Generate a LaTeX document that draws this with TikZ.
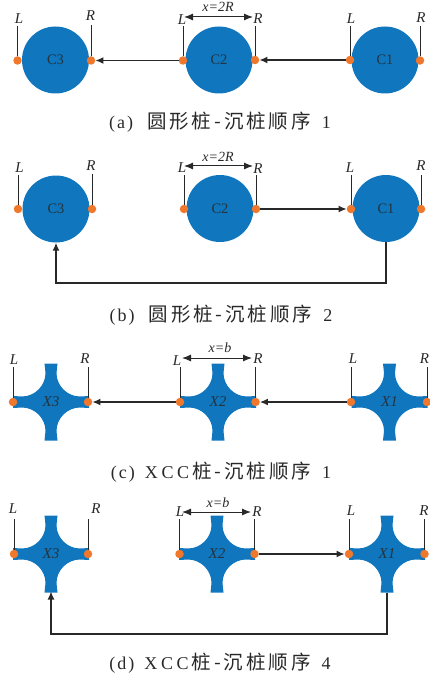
\documentclass[tikz,border=0pt]{standalone}
\usepackage{fontspec}
\setmainfont{Liberation Serif}
\newfontfamily\cjk[LetterSpace=15]{Noto Sans CJK SC}
\newfontfamily\capl[LetterSpace=20]{Liberation Serif}
\usetikzlibrary{arrows.meta}
\definecolor{pile}{RGB}{16,118,190}
\definecolor{pin}{RGB}{240,120,45}
\definecolor{ink}{RGB}{40,40,40}
\tikzset{x=1pt,y=-1pt,
 pinpt/.style={circle,fill=pin,inner sep=0pt,minimum size=8.5pt},
 pilec/.style={circle,fill=pile,inner sep=0pt,minimum size=67pt},
 pilelab/.style={font=\fontsize{14.5}{14}\selectfont,text=ink!85!pile,inner sep=0pt},
 xlab/.style={font=\itshape\fontsize{15}{14}\selectfont,text=ink!85!pile,inner sep=0pt},
 sidelab/.style={font=\itshape\fontsize{15}{15}\selectfont,text=ink,inner sep=0pt},
 widthlab/.style={font=\itshape\fontsize{14}{14}\selectfont,text=ink,inner sep=0pt},
 captxt/.style={font=\capl\fontsize{18}{20}\selectfont,text=ink,inner sep=0pt},
 stick/.style={draw=ink,line width=0.9pt},
 flow/.style={draw=ink,line width=1.3pt,-{Latex[length=8pt,width=7pt]}},
 dim/.style={draw=ink,line width=1pt,{Latex[length=9pt,width=7pt]}-{Latex[length=9pt,width=7pt]}}
}
\newcommand{\xpile}[3]{% bottom-coordinate name, cx, cy
 \fill[pile,shift={(#2,#3)}] (-6.5,-38.5) -- (6.5,-38.5) -- (5.5,-29)
  .. controls (5.5,-16.3) and (16.3,-5.5) .. (29,-5.5) -- (38,-6) -- (38,6) -- (29,5.5)
  .. controls (16.3,5.5) and (5.5,16.3) .. (5.5,29) -- (6.5,38.5) -- (-6.5,38.5) -- (-5.5,29)
  .. controls (-5.5,16.3) and (-16.3,5.5) .. (-29,5.5) -- (-38,6) -- (-38,-6) -- (-29,-5.5)
  .. controls (-16.3,-5.5) and (-5.5,-16.3) .. (-5.5,-29) -- cycle;
 \path (#2,#3) ++(0,38.5) coordinate (#1);
}
\newcommand{\cjktxt}[1]{{\cjk\fontsize{19.5}{20}\selectfont #1}}
\newcommand{\plab}[1]{(\hspace{2pt}#1\hspace{2pt})}
\begin{document}
\begin{tikzpicture}
\useasboundingbox (0,0) rectangle (429,679);
% ---------- a
\node[pilec] (a3) at (55.5,60) {};
\node[pilec] (a2) at (219,60) {};
\node[pilec] (a1) at (385,60) {};
\node[pilelab] at (a3) {C3};\node[pilelab] at (a2) {C2};\node[pilelab] at (a1) {C1};
\node[pinpt] (a3L) at (17.5,60.5) {};\node[pinpt] (a3R) at (91,60.5) {};
\node[pinpt] (a2L) at (183,60.5) {};\node[pinpt] (a2R) at (255,60) {};
\node[pinpt] (a1L) at (350,60) {};\node[pinpt] (a1R) at (420,60.5) {};
\node[sidelab] at (19,19) {L};\node[sidelab] at (90.5,16) {R};
\node[sidelab] at (182,20) {L};\node[sidelab] at (258,19) {R};
\node[sidelab] at (351,19) {L};\node[sidelab] at (421,18) {R};
\coordinate (a3Lt) at (17.5,26);\coordinate (a3Rt) at (91,25);
\coordinate (a2Lt) at (183,26);\coordinate (a2Rt) at (255,26);
\coordinate (a1Lt) at (350,26);\coordinate (a1Rt) at (420,26);
\draw[stick] (a3L) -- (a3Lt);\draw[stick] (a3R) -- (a3Rt);
\draw[stick] (a2L) -- (a2Lt);\draw[stick] (a2R) -- (a2Rt);
\draw[stick] (a1L) -- (a1Lt);\draw[stick] (a1R) -- (a1Rt);
\draw[flow] (a2L) -- (a3R);\draw[flow] (a1L) -- (a2R);
\coordinate (adl) at (184,17);\coordinate (adr) at (253,17);
\draw[dim] (adl) -- (adr);
\node[widthlab] at (218,7) {x=2R};
\node[captxt] (acap) at (220,122) {\plab{a}\hspace{14pt}\cjktxt{圆形桩-沉桩顺序}\hspace{11pt}1};
% ---------- b
\node[pilec] (b3) at (56,209) {};
\node[pilec] (b2) at (220,208.5) {};
\node[pilec] (b1) at (386,208.5) {};
\node[pilelab] at (b3) {C3};\node[pilelab] at (b2) {C2};\node[pilelab] at (b1) {C1};
\node[pinpt] (b3L) at (18,209) {};\node[pinpt] (b3R) at (92,209) {};
\node[pinpt] (b2L) at (184,209) {};\node[pinpt] (b2R) at (256,209) {};
\node[pinpt] (b1L) at (351,209) {};\node[pinpt] (b1R) at (421,209) {};
\node[sidelab] at (19.5,168) {L};\node[sidelab] at (91,166) {R};
\node[sidelab] at (182,168) {L};\node[sidelab] at (258,169) {R};
\node[sidelab] at (350,168) {L};\node[sidelab] at (421,166) {R};
\coordinate (b3Lt) at (18,175);\coordinate (b3Rt) at (92,174);
\coordinate (b2Lt) at (184,175);\coordinate (b2Rt) at (256,175);
\coordinate (b1Lt) at (351,175);\coordinate (b1Rt) at (421,175);
\draw[stick] (b3L) -- (b3Lt);\draw[stick] (b3R) -- (b3Rt);
\draw[stick] (b2L) -- (b2Lt);\draw[stick] (b2R) -- (b2Rt);
\draw[stick] (b1L) -- (b1Lt);\draw[stick] (b1R) -- (b1Rt);
\draw[flow] (b2R) -- (b1L);
\coordinate (blow) at (200,283);
\draw[flow] (b1.south) |- (blow) -| (b3.south);
\coordinate (bdl) at (184,166);\coordinate (bdr) at (253,166);
\draw[dim] (bdl) -- (bdr);
\node[widthlab] at (218,157) {x=2R};
\node[captxt] (bcap) at (221,315) {\plab{b}\hspace{14pt}\cjktxt{圆形桩-沉桩顺序}\hspace{11pt}2};
% ---------- c
\xpile{c3b}{51}{402}\xpile{c2b}{218}{402}\xpile{c1b}{389.5}{402}
\node[xlab] at (51,402) {X3};\node[xlab] at (218,402) {X2};\node[xlab] at (389.5,402) {X1};
\node[pinpt] (c3L) at (13,402) {};\node[pinpt] (c3R) at (88,402) {};
\node[pinpt] (c2L) at (180,402) {};\node[pinpt] (c2R) at (255.5,402) {};
\node[pinpt] (c1L) at (351,402) {};\node[pinpt] (c1R) at (427,402) {};
\node[sidelab] at (14,360) {L};\node[sidelab] at (85,359) {R};
\node[sidelab] at (177,361) {L};\node[sidelab] at (258,359) {R};
\node[sidelab] at (353,359) {L};\node[sidelab] at (424.5,359) {R};
\coordinate (c3Lt) at (13,367);\coordinate (c3Rt) at (88,367);
\coordinate (c2Lt) at (180,367);\coordinate (c2Rt) at (255.5,367);
\coordinate (c1Lt) at (351,367);\coordinate (c1Rt) at (427,367);
\draw[stick] (c3L) -- (c3Lt);\draw[stick] (c3R) -- (c3Rt);
\draw[stick] (c2L) -- (c2Lt);\draw[stick] (c2R) -- (c2Rt);
\draw[stick] (c1L) -- (c1Lt);\draw[stick] (c1R) -- (c1Rt);
\draw[flow] (c2L) -- (c3R);\draw[flow] (c1L) -- (c2R);
\coordinate (cdl) at (182,358);\coordinate (cdr) at (252,358);
\draw[dim] (cdl) -- (cdr);
\node[widthlab] at (220,348) {x=b};
\node[captxt] (ccap) at (221,472) {\plab{c}\hspace{10pt}XCC\hspace{3pt}\cjktxt{桩-沉桩顺序}\hspace{11pt}1};
% ---------- d
\xpile{d3b}{51}{554}\xpile{d2b}{217}{554}\xpile{d1b}{387}{554}
\node[xlab] at (51,554) {X3};\node[xlab] at (217,554) {X2};\node[xlab] at (387,554) {X1};
\node[pinpt] (d3L) at (14,554) {};\node[pinpt] (d3R) at (88,554) {};
\node[pinpt] (d2L) at (179.5,554) {};\node[pinpt] (d2R) at (254.5,554) {};
\node[pinpt] (d1L) at (349,554) {};\node[pinpt] (d1R) at (424.5,554) {};
\node[sidelab] at (13,509) {L};\node[sidelab] at (96,509) {R};
\node[sidelab] at (180,512) {L};\node[sidelab] at (257,512) {R};
\node[sidelab] at (351,511) {L};\node[sidelab] at (424,511) {R};
\coordinate (d3Lt) at (14,519);\coordinate (d3Rt) at (88,519);
\coordinate (d2Lt) at (179.5,519);\coordinate (d2Rt) at (254.5,519);
\coordinate (d1Lt) at (349,519);\coordinate (d1Rt) at (424.5,519);
\draw[stick] (d3L) -- (d3Lt);\draw[stick] (d3R) -- (d3Rt);
\draw[stick] (d2L) -- (d2Lt);\draw[stick] (d2R) -- (d2Rt);
\draw[stick] (d1L) -- (d1Lt);\draw[stick] (d1R) -- (d1Rt);
\draw[flow] (d2R) -- (d1L);
\coordinate (dlow) at (200,634);
\draw[flow] (d1b) |- (dlow) -| ([yshift=1pt]d3b);
\coordinate (ddl) at (182,512);\coordinate (ddr) at (251,512);
\draw[dim] (ddl) -- (ddr);
\node[widthlab] at (218,503) {x=b};
\node[captxt] (dcap) at (220,663) {\plab{d}\hspace{10pt}XCC\hspace{3pt}\cjktxt{桩-沉桩顺序}\hspace{11pt}4};
\end{tikzpicture}
\end{document}
